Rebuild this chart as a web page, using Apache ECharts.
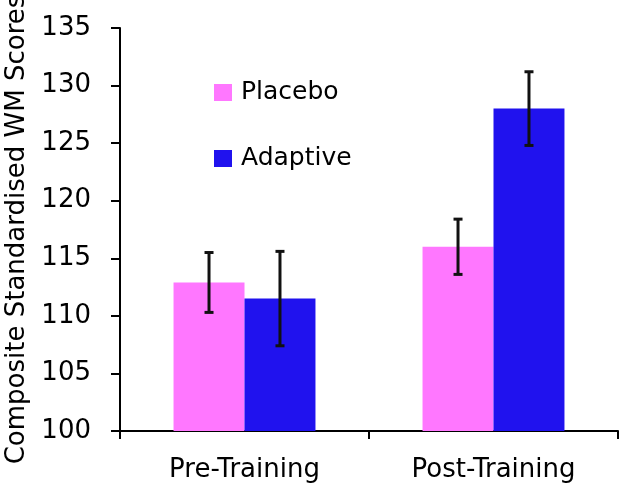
<!DOCTYPE html>
<html>
<head>
<meta charset="utf-8">
<script src="https://cdn.jsdelivr.net/npm/echarts@6/dist/echarts.min.js"></script>
<style>
html,body{margin:0;padding:0;background:#fff;}
#chart{width:640px;height:490px;}
</style>
</head>
<body>
<div id="chart"></div>
<script>
const categories = ['Pre-Training', 'Post-Training'];
const seriesNames = ['Placebo', 'Adaptive'];
const placeboMeans = [112.9, 116.0];
const adaptiveMeans = [111.5, 128.0];
const placeboErrors = [2.6, 2.4];
const adaptiveErrors = [4.1, 3.2];
const yTicks = [100, 105, 110, 115, 120, 125, 130, 135];

const FONT = 'DejaVu Sans';
const CAT_GAP = 0.43;

function errorData(means, errs) {
  return means.map((m, i) => [i, m, errs[i]]);
}

function makeErrorRenderer(side) {
  return function (params, api) {
    const ci = api.value(0);
    const v = api.value(1);
    const e = api.value(2);
    const band = api.size([1, 0])[0];
    const bw = band * (1 - CAT_GAP) / 2;
    const off = side * bw / 2;
    const top = api.coord([ci, v + e]);
    const bot = api.coord([ci, v - e]);
    const x = top[0] + off;
    const cap = 4.5;
    const style = { stroke: '#111', lineWidth: 3 };
    return {
      type: 'group',
      children: [
        { type: 'line', shape: { x1: x, y1: top[1], x2: x, y2: bot[1] }, style: style },
        { type: 'line', shape: { x1: x - cap, y1: top[1], x2: x + cap, y2: top[1] }, style: style },
        { type: 'line', shape: { x1: x - cap, y1: bot[1], x2: x + cap, y2: bot[1] }, style: style }
      ]
    };
  };
}

const chart = echarts.init(document.getElementById('chart'), null, { renderer: 'canvas' });
chart.setOption({
  animation: false,
  backgroundColor: '#fff',
  textStyle: { fontFamily: FONT },
  grid: { left: 120, right: 22, top: 28, bottom: 59, containLabel: false, outerBoundsMode: 'none' },
  legend: {
    data: seriesNames,
    orient: 'vertical',
    left: 214,
    top: 80,
    padding: 0,
    itemWidth: 18,
    itemHeight: 17,
    itemGap: 41,
    icon: 'rect',
    textStyle: { fontFamily: FONT, fontSize: 25, color: '#000', lineHeight: 25, padding: [0, 0, 0, 4] }
  },
  xAxis: {
    type: 'category',
    data: categories,
    axisLine: { lineStyle: { color: '#000', width: 2 } },
    axisTick: { show: true, length: 8, lineStyle: { color: '#000', width: 2 } },
    axisLabel: { fontFamily: FONT, fontSize: 26, color: '#000', margin: 26 }
  },
  yAxis: {
    type: 'value',
    min: 100,
    max: 135,
    interval: 5,
    name: 'Composite Standardised WM Scores',
    nameLocation: 'middle',
    nameGap: 89,
    nameTextStyle: { fontFamily: FONT, fontSize: 26, color: '#000' },
    splitLine: { show: false },
    axisLine: { show: true, lineStyle: { color: '#000', width: 2 } },
    axisTick: { show: true, length: 9, lineStyle: { color: '#000', width: 2 } },
    axisLabel: {
      fontFamily: FONT, fontSize: 26, color: '#000', margin: 29,
      formatter: function (v) { return yTicks.indexOf(v) >= 0 ? String(v) : ''; }
    }
  },
  series: [
    {
      name: seriesNames[0], type: 'bar', data: placeboMeans,
      barGap: '0%', barCategoryGap: (CAT_GAP * 100) + '%',
      itemStyle: { color: '#FF77FF' }
    },
    {
      name: seriesNames[1], type: 'bar', data: adaptiveMeans,
      barGap: '0%', barCategoryGap: (CAT_GAP * 100) + '%',
      itemStyle: { color: '#2012EE' }
    },
    {
      type: 'custom', name: 'err-placebo',
      renderItem: makeErrorRenderer(-1),
      data: errorData(placeboMeans, placeboErrors),
      encode: { x: 0, y: 1 }, z: 10
    },
    {
      type: 'custom', name: 'err-adaptive',
      renderItem: makeErrorRenderer(1),
      data: errorData(adaptiveMeans, adaptiveErrors),
      encode: { x: 0, y: 1 }, z: 10
    }
  ]
});
</script>
</body>
</html>
